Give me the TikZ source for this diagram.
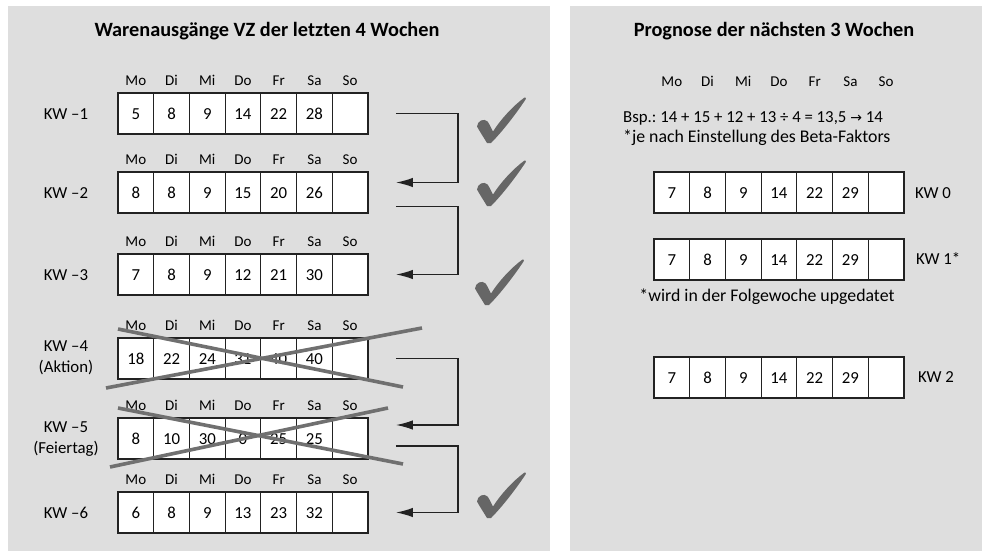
\documentclass[tikz,border=0pt]{standalone}
\usepackage{fontspec}
\setmainfont{Carlito}[Numbers=Lining]
\newfontfamily\symf{DejaVu Sans}
\usetikzlibrary{arrows.meta}
\definecolor{panel}{HTML}{DEDEDE}
\definecolor{crossc}{HTML}{707070}
\definecolor{checkc}{HTML}{666666}
\definecolor{linec}{HTML}{222222}
\frenchspacing
\tikzset{
  cell/.style={draw=linec, line width=1.1pt, fill=white, minimum width=35.71pt,
    minimum height=41pt, inner sep=0pt, outer sep=0pt, anchor=north west,
    text height=11pt, text depth=0pt,
    font=\fontsize{16.8}{18}\selectfont},
  daylab/.style={inner sep=0pt, text height=10pt, text depth=0pt,
    font=\fontsize{15}{16}\selectfont},
  kwlab/.style={inner sep=0pt, align=center, font=\fontsize{16.8}{20.5}\selectfont},
  ptitle/.style={inner sep=0pt, font=\fontsize{20.3}{22}\selectfont\bfseries},
  note/.style={inner sep=0pt, align=left, font=\fontsize{17.8}{19.5}\selectfont},
  conn/.style={draw=linec, line width=1.3pt, -{Latex[length=17pt,width=9.5pt]}},
  crossline/.style={draw=crossc, line width=3.6pt},
  checkfill/.style={fill=checkc}
}
% #1 name, #2 x, #3 y top, #4..#9 values
\newcommand\weekrow[9]{%
  \node[cell] (#1-1) at (#2,#3) {#4};
  \node[cell] (#1-2) at (#1-1.north east) {#5};
  \node[cell] (#1-3) at (#1-2.north east) {#6};
  \node[cell] (#1-4) at (#1-3.north east) {#7};
  \node[cell] (#1-5) at (#1-4.north east) {#8};
  \node[cell] (#1-6) at (#1-5.north east) {#9};
  \node[cell] (#1-7) at (#1-6.north east) {};
}
% #1 row name, #2 vertical shift (pt, upwards)
\newcommand\weekdays[2]{%
  \node[daylab] (#1-d1) at ([yshift=#2]#1-1.north) {Mo};
  \node[daylab] (#1-d2) at ([yshift=#2]#1-2.north) {Di};
  \node[daylab] (#1-d3) at ([yshift=#2]#1-3.north) {Mi};
  \node[daylab] (#1-d4) at ([yshift=#2]#1-4.north) {Do};
  \node[daylab] (#1-d5) at ([yshift=#2]#1-5.north) {Fr};
  \node[daylab] (#1-d6) at ([yshift=#2]#1-6.north) {Sa};
  \node[daylab] (#1-d7) at ([yshift=#2]#1-7.north) {So};
}
% check mark, #1 = bottom vertex
\newcommand\checkmk[1]{%
  \fill[checkfill, shift={#1}]
    (-11,-15.5) .. controls (-10.5,-21.5) and (-4,-24) .. (-0.5,-20.5)
    .. controls (1.5,-18) and (3,-14) .. (5,-10.5)
    .. controls (13,-23) and (25,-36) .. (36.5,-44.5)
    .. controls (38,-45) and (38.5,-43.5) .. (37.5,-42.5)
    .. controls (28,-28) and (14,-10) .. (3,1)
    -- (-1,1)
    .. controls (-4,-4) and (-8,-10) .. cycle;
}
\begin{document}
\begin{tikzpicture}[x=1pt,y=-1pt]
\useasboundingbox (0,0) rectangle (982,551);
\fill[white] (0,0) rectangle (982,551);
\fill[panel] (8,6) rectangle (550,551);
\fill[panel] (570,6) rectangle (982,551);

% ---------- left panel ----------
\node[ptitle] (tl) at (267,31) {Warenausgänge VZ der letzten 4 Wochen};

\weekrow{L1}{118}{93}{5}{8}{9}{14}{22}{28}
\weekrow{L2}{118}{172}{8}{8}{9}{15}{20}{26}
\weekrow{L3}{118}{254}{7}{8}{9}{12}{21}{30}
\weekrow{L4}{118}{338}{18}{22}{24}{31}{40}{40}
\weekrow{L5}{118}{418}{8}{10}{30}{0}{25}{25}
\weekrow{L6}{118}{492}{6}{8}{9}{13}{23}{32}
\weekdays{L1}{12.5pt}
\weekdays{L2}{12.5pt}
\weekdays{L3}{12.5pt}
\weekdays{L4}{12.5pt}
\weekdays{L5}{12.5pt}
\weekdays{L6}{12.5pt}

\node[kwlab] (k1) at (66,114) {KW --1};
\node[kwlab] (k2) at (66,193) {KW --2};
\node[kwlab] (k3) at (66,275) {KW --3};
\node[kwlab] (k4) at (66,358) {KW --4\\(Aktion)};
\node[kwlab] (k5) at (66,439) {KW --5\\(Feiertag)};
\node[kwlab] (k6) at (66,513) {KW --6};

% crossings
\draw[crossline] (118,329) -- (403,387);
\draw[crossline] (106,388) -- (422,328);
\draw[crossline] (118,408) -- (403,464);
\draw[crossline] (110,467) -- (388,408);

% connectors
\coordinate (o1) at ([xshift=28pt]L1-7.east);
\coordinate (i2) at ([xshift=28pt,yshift=10pt]L2-7.east);
\coordinate (o2) at ([xshift=28pt,yshift=-14pt]L2-7.east);
\coordinate (i3) at ([xshift=28pt]L3-7.east);
\coordinate (o4) at ([xshift=28pt]L4-7.east);
\coordinate (i5) at ([xshift=28pt,yshift=13.5pt]L5-7.east);
\coordinate (o5) at ([xshift=28pt,yshift=-7.5pt]L5-7.east);
\coordinate (i6) at ([xshift=28pt]L6-7.east);
\draw[conn] (o1) -- ++(62,0) |- (i2);
\draw[conn] (o2) -- ++(62,0) |- (i3);
\draw[conn] (o4) -- ++(62,0) |- (i5);
\draw[conn] (o5) -- ++(62,0) |- (i6);

% check marks
\checkmk{(488,142)}
\checkmk{(488,205)}
\checkmk{(486,304)}
\checkmk{(488,517)}

% ---------- right panel ----------
\node[ptitle] (tr) at (774,31) {Prognose der nächsten 3 Wochen};
\weekrow{R0}{654}{172}{7}{8}{9}{14}{22}{29}
\weekrow{R1}{654}{239}{7}{8}{9}{14}{22}{29}
\weekrow{R2}{654}{357}{7}{8}{9}{14}{22}{29}
\weekdays{R0}{91pt}

\node[note, anchor=west, font=\fontsize{16.8}{19.5}\selectfont] (bsp) at (623,118) {Bsp.: 14 + 15 + 12 + 13 ÷ 4 = 13,5 {\symf\fontsize{14}{16}\selectfont →} 14};
\node[note, anchor=west] (beta) at (623,138) {*je nach Einstellung des Beta-Faktors};
\node[note] (upd) at (767,297) {*wird in der Folgewoche upgedatet};

\node[kwlab, anchor=west] (kr0) at (915,193) {KW 0};
\node[kwlab, anchor=west] (kr1) at (916,259) {KW 1*};
\node[kwlab, anchor=west] (kr2) at (918,377) {KW 2};
\end{tikzpicture}
\end{document}
